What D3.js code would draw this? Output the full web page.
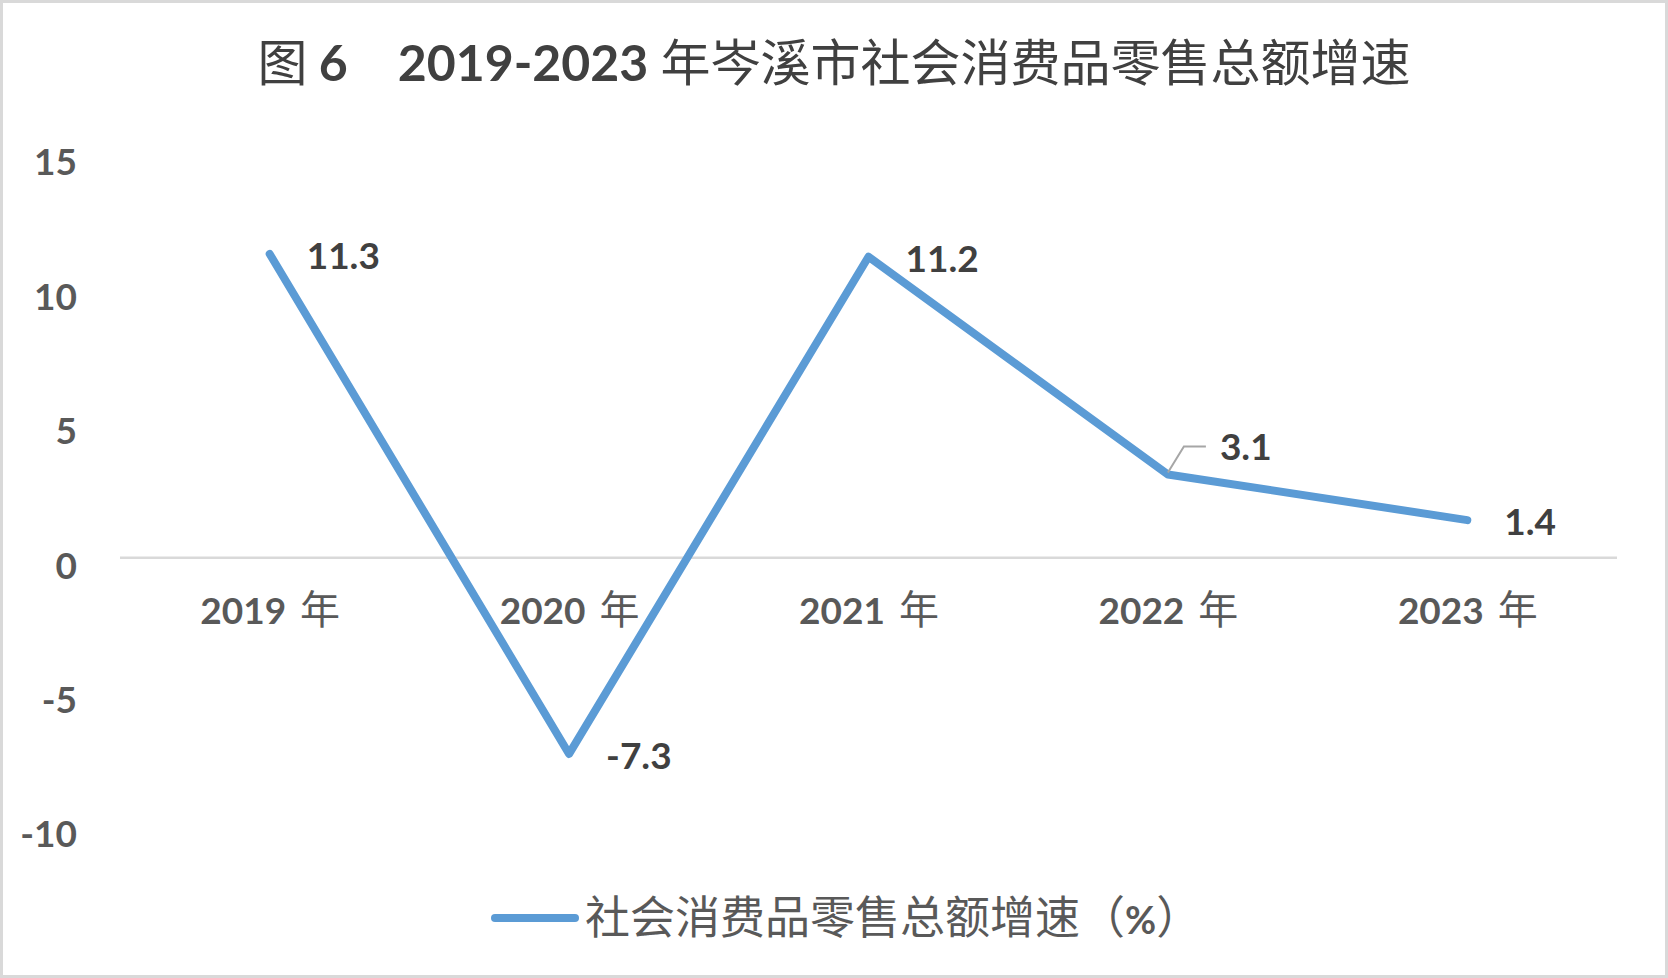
<!DOCTYPE html>
<html>
<head>
<meta charset="utf-8">
<script src="https://cdn.jsdelivr.net/npm/d3@7"></script>
<style>
  body { margin: 0; background: #fff; }
</style>
</head>
<body>
<div id="box"></div>
<script>
// 数据
const years = ['2019', '2020', '2021', '2022', '2023']
const growth = [11.3, -7.3, 11.2, 3.1, 1.4]
const yTicks = [-10, -5, 0, 5, 10, 15]
const seriesName = '社会消费品零售总额增速'
const seriesUnit = '%'
const figNo = '6'
const yearRange = '2019-2023'
const titleRest = '岑溪市社会消费品零售总额增速'

// 画布
const width = 1668
const height = 978
const cjk = '"Noto Sans CJK SC", sans-serif'
const num = 'Lato, "Open Sans", sans-serif'

const x = d3.scalePoint().domain(years).range([120, 1617]).padding(0.5)
const y = d3.scaleLinear().domain([-10, 15]).range([826.5, 154.6])

const svg = d3.select('#box').append('svg')
  .attr('width', width)
  .attr('height', height)

// 背景 + 边框
svg.append('rect')
  .attr('x', 1.5).attr('y', 1.5)
  .attr('width', width - 3).attr('height', height - 3)
  .attr('fill', '#fff')
  .attr('stroke', '#d9d9d9')
  .attr('stroke-width', 3)

// 标题
const title = svg.append('text')
  .attr('x', width / 2)
  .attr('y', 81)
  .attr('text-anchor', 'middle')
  .attr('fill', '#404040')
  .style('font-size', '50px')
title.append('tspan').style('font-family', cjk).text('图 ')
title.append('tspan').style('font-family', num).style('font-weight', 'bold').text(figNo)
title.append('tspan').style('font-family', cjk).text('\u3000')
title.append('tspan').style('font-family', num).style('font-weight', 'bold').text(yearRange + ' ')
title.append('tspan').style('font-family', cjk).text('年' + titleRest)

// 零线
svg.append('line')
  .attr('x1', 120).attr('x2', 1617)
  .attr('y1', y(0)).attr('y2', y(0))
  .attr('stroke', '#d9d9d9')
  .attr('stroke-width', 2.5)

// y轴 (用普通连字符)
const yAxis = svg.append('g')
  .attr('transform', 'translate(77,0)')
  .call(d3.axisLeft(y).tickValues(yTicks).tickSize(0).tickPadding(0).tickFormat(d => String(d)))
yAxis.select('.domain').remove()
yAxis.selectAll('text')
  .attr('dy', '0.55em')
  .attr('fill', '#595959')
  .style('font-family', num)
  .style('font-weight', 'bold')
  .style('font-size', '37px')

// x轴 (位于0线处)
const xAxis = svg.append('g')
  .attr('transform', `translate(0,${y(0)})`)
  .call(d3.axisBottom(x).tickSize(0))
xAxis.select('.domain').remove()
xAxis.selectAll('text').each(function(d) {
  const t = d3.select(this)
  t.text(null)
    .attr('y', 63)
    .attr('dy', '0.36em')
    .attr('fill', '#595959')
  t.append('tspan').style('font-family', num).style('font-weight', 'bold')
    .style('font-size', '37px').text(d)
  t.append('tspan').attr('dx', 14).style('font-family', cjk).style('font-size', '40px').text('年')
})

// 折线
const line = d3.line()
  .x((d, i) => x(years[i]))
  .y(d => y(d))
svg.append('path')
  .datum(growth)
  .attr('d', line)
  .attr('fill', 'none')
  .attr('stroke', '#5b9bd5')
  .attr('stroke-width', 8)
  .attr('stroke-linecap', 'round')
  .attr('stroke-linejoin', 'round')

// 数据标签（第4个点上移并带引导线）
const labelShift = [[37, 2], [37, 2], [37, 2], [52, -28], [37, 2]]
const labels = svg.append('g')
growth.forEach((v, i) => {
  const px = x(years[i]), py = y(v)
  const [dx, dy] = labelShift[i]
  if (dy < -10) {
    labels.append('path')
      .attr('d', `M${px},${py - 2}L${px + 16},${py + dy}L${px + dx - 14},${py + dy}`)
      .attr('fill', 'none')
      .attr('stroke', '#a6a6a6')
      .attr('stroke-width', 2)
  }
  labels.append('text')
    .attr('x', px + dx)
    .attr('y', py + dy)
    .attr('dy', '0.36em')
    .attr('fill', '#404040')
    .style('font-family', num)
    .style('font-weight', 'bold')
    .style('font-size', '37px')
    .text(v)
})

// 图例
const legend = svg.append('g').attr('transform', 'translate(495,918)')
legend.append('line')
  .attr('x1', 0).attr('x2', 80)
  .attr('stroke', '#5b9bd5')
  .attr('stroke-width', 8)
  .attr('stroke-linecap', 'round')
const lt = legend.append('text')
  .attr('x', 90)
  .attr('dy', '0.36em')
  .attr('fill', '#595959')
  .style('font-size', '45px')
lt.append('tspan').style('font-family', cjk).text(seriesName + '（')
lt.append('tspan').style('font-family', num).style('font-weight', 'bold').style('font-size', '38px').text(seriesUnit)
lt.append('tspan').style('font-family', cjk).text('）')
</script>
</body>
</html>
